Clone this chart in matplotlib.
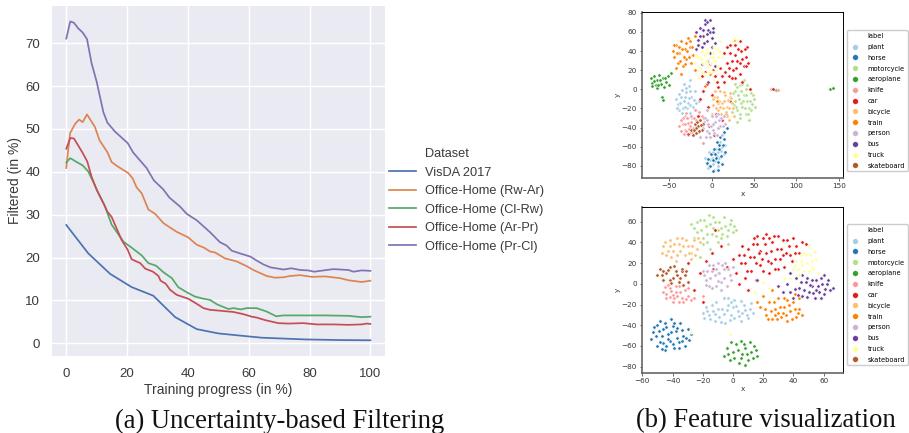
import matplotlib
matplotlib.use("Agg")
import matplotlib.pyplot as plt
from matplotlib.lines import Line2D

W, H = 909, 433

# training curves
visda_x = [0, 7.2, 14.4, 21.5, 28.6, 35.8, 42.9, 50, 57, 64.3, 71.4, 78.5, 90, 100]
visda_y = [27.6, 21, 16.2, 13.1, 11.1, 6.1, 3.3, 2.3, 1.8, 1.3, 1.1, 0.9, 0.75, 0.7]

rwar_x = [0, 0.5, 1.3, 2.9, 4.2, 5.4, 6.8, 9.4, 10.9, 13.5, 14.9, 16.6, 20.4, 21.8, 23.1, 24.8, 27, 29.2, 32, 36.3,
          40.1, 42.9, 45.3, 47.3, 48.9, 52.2, 56, 59.3, 61.5, 65.9, 68.6, 71.4, 73.6, 76.9, 80.7, 85.1, 90, 92.8, 97.1, 100]
rwar_y = [40.9, 44.4, 49.1, 51.2, 52.2, 51.6, 53.4, 50.5, 47.4, 44.6, 42.3, 41.4, 39.7, 38.5, 36.4, 35, 31.2, 30.2, 28, 26,
          24.7, 23, 22.3, 21.4, 21.2, 19.8, 19.1, 18, 17.1, 15.7, 15.3, 15.4, 15.7, 15.9, 15.5, 15.6, 15.2, 14.7, 14.3, 14.6]

clrw_x = [0, 1.3, 3.4, 5.4, 7.2, 8.9, 10.5, 12.7, 14.9, 18.8, 21.5, 24.8, 27, 29.5, 31.9, 34.7, 36.8, 39.6, 42.3, 45.1,
          47.3, 49.5, 53.3, 55, 57.4, 59.3, 62.6, 65.9, 69, 71.4, 76.9, 80, 85, 92.8, 97.1, 100]
clrw_y = [42.2, 43.2, 42.3, 41.5, 40.1, 37.6, 35.1, 32, 27.7, 23.7, 22.3, 20.5, 18.7, 18.1, 16.6, 15.2, 13.1, 11.9, 10.9, 10.4,
          10.1, 9.1, 8, 8.2, 7.9, 8.2, 8.2, 7.4, 6.3, 6.5, 6.5, 6.5, 6.5, 6.4, 6.1, 6.2]

arpr_x = [0, 1.3, 2.5, 5.4, 6.9, 8.3, 10, 12.2, 13.5, 14.9, 18.2, 20.2, 21.5, 24.3, 26, 28.5, 30.3, 31, 32.7, 34.1,
          36.3, 40.1, 42.9, 45.1, 47.3, 50.5, 55, 58.2, 61, 62.6, 65.4, 69.7, 73, 78, 82.3, 87.8, 92.8, 97.1, 98.8, 100]
arpr_y = [45.4, 47.9, 47.8, 44.4, 42.4, 38.9, 35.8, 32.7, 30.7, 29.5, 24.1, 21.8, 19.6, 18.7, 17.4, 16.7, 15.7, 14.6, 13.9, 12.5,
          11.3, 10.4, 9.2, 8.2, 7.8, 7.6, 7.3, 6.8, 6.2, 6, 5.4, 4.7, 4.6, 4.7, 4.4, 4.4, 4.3, 4.4, 4.6, 4.5]

prcl_x = [0, 1.3, 2.5, 3.9, 5.4, 6.8, 8.3, 10, 12.2, 13.5, 16, 20.2, 22, 26.4, 28.8, 31.9, 33.9, 37.4, 39.6, 42.9,
          47.3, 50.5, 52.7, 54.4, 57, 60.6, 62.6, 64.8, 67.2, 69, 71.4, 74, 76.9, 79.6, 81.5, 84.6, 87.8, 92.8, 94.4, 97.1, 100]
prcl_y = [71.1, 75.1, 74.8, 73.5, 72.5, 71, 65.4, 61, 53.9, 51.5, 49.4, 46.7, 44.5, 40.9, 38, 35.9, 34, 31.9, 30.2, 28.7,
          25.9, 23.6, 22.8, 21.6, 21, 20.2, 19.3, 18.4, 17.7, 17.5, 17.2, 17.5, 17.1, 17, 16.7, 17, 17.3, 17.1, 16.7, 17, 16.9]

dataset_names = ["VisDA 2017", "Office-Home (Rw-Ar)", "Office-Home (Cl-Rw)", "Office-Home (Ar-Pr)", "Office-Home (Pr-Cl)"]
dataset_colors = ["#4C72B0", "#DD8452", "#55A868", "#C44E52", "#8172B3"]

class_names = ["plant", "horse", "motorcycle", "aeroplane", "knife", "car", "bicycle", "train", "person", "bus", "truck", "skateboard"]
class_colors = ["#a6cee3", "#1f78b4", "#b2df8a", "#33a02c", "#fb9a99", "#e31a1c", "#fdbf6f", "#ff7f00", "#cab2d6", "#6a3d9a", "#ffff99", "#b15928"]

# t-SNE points, hand-read approximations of the clouds (top panel)
top_plant = [(-40,-15),(-36,-8),(-34,-20),(-30,-3),(-28,-14),(-26,-25),(-24,-8),(-22,-18),(-32,-28),(-38,-22),(-20,-2),(-18,-14),(-27,3),(-35,-1),(-29,-20),(-23,-30),
             (-5,-78),(0,-72),(5,-62),(10,-55),(14,-68),(8,-80),(-3,-66),(3,-84),(12,-48),(16,-58),(-8,-72),(6,-70),(-15,-12),(-25,10),
             (-42,-10),(-38,-5),(-37,-14),(-33,-12),(-31,-18),(-31,-8),(-27,-9),(-25,-16),(-25,-2),(-21,-11),(-19,-22),(-35,-25),(-30,1),(-33,6),(-28,-30),(-41,-20),
             (-2,-74),(2,-78),(4,-75),(-4,-82),(7,-66),(9,-72),(12,-60),(15,-46),(11,-64),(1,-66)]
top_horse = [(-6,-77),(-2,-80),(1,-74),(4,-68),(7,-76),(9,-62),(11,-70),(13,-58),(15,-52),(16,-65),(3,-62),(-1,-68),(6,-55),(12,-78),(10,-50),(18,-40),(8,-84),(2,-85),(14,-45),(5,-72),(-4,-73),(9,-58)]
top_motor = [(22,-8),(26,-16),(28,-2),(30,-22),(32,-10),(34,4),(36,-18),(38,-6),(40,-26),(42,-12),(44,-20),(46,-4),(48,-15),(34,-30),(28,6),(38,10),(24,-24),(44,-32),(50,-10),(40,0),(30,-34),(35,-14),
             (25,-4),(27,-12),(29,-18),(31,-6),(33,-26),(35,-2),(37,-12),(39,-20),(41,-6),(43,-26),(45,-12),(47,-22),(49,-6),(51,-18),(30,2),(36,6),(42,4),(26,-28)]
top_aero = [(-72,12),(-70,7),(-68,14),(-66,4),(-64,10),(-62,15),(-60,6),(-58,12),(-56,2),(-54,8),(-52,14),(-50,4),(-48,17),(-65,1),(-59,-8),(-58,-11),(140,0),(143,1),(76,-1),(-68,9),(-61,10),(-63,5),(-55,12),(-70,3)]
top_knife = [(-38,-38),(-34,-30),(-32,-42),(-28,-35),(-26,-46),(-24,-28),(-22,-40),(-18,-32),(-16,-45),(-36,-44),(-30,-25),(-20,-22),(-12,-28),(-28,-48),(-34,-36),(-25,-38),(70,0),(78,-1),(-10,-56),
             (-36,-32),(-32,-36),(-30,-44),(-29,-30),(-27,-41),(-24,-34),(-23,-45),(-21,-30),(-19,-38),(-33,-47),(-15,-24)]
top_car = [(18,28),(22,38),(25,20),(28,46),(30,30),(33,16),(35,40),(38,24),(40,34),(20,14),(42,44),(15,38),(26,52),(36,8),(10,22),(4,14),(-2,26),(-6,6),(0,-6),(8,2),
           (-10,-2),(14,8),(-12,14),(5,-26),(-4,-18),(-16,-28),(-3,-38),(12,-32),(22,-12),(45,0),(28,12),(43,28),(-5,-22),(3,-48),(72,0),
           (20,22),(24,30),(27,36),(29,22),(31,42),(33,28),(36,32),(39,42),(41,24),(22,46),(18,44),(34,50),(24,12),(12,14),(6,8),(2,20),(16,18),(-8,18),(-14,-10),(8,-14),(-9,-30),(17,-26)]
top_bicy = [(2,-16),(6,-8),(8,-22),(10,-2),(12,-14),(14,-28),(16,-6),(18,-18),(20,-32),(22,-4),(24,-14),(4,-2),(0,-26),(13,-20),(26,-28),(19,-11),(7,-14),
            (3,-8),(5,-20),(9,-12),(11,-26),(15,-12),(17,-24),(21,-20),(23,-9),(25,-20),(10,-18),(14,-3),(18,-28),(1,-10)]
top_train = [(-46,40),(-44,34),(-42,46),(-40,28),(-38,38),(-36,50),(-34,24),(-32,42),(-30,32),(-28,54),(-26,44),(-24,28),(-22,36),(-20,56),(-42,22),(-36,16),(-15,12),(-8,3),(-2,16),(6,-12),(-20,20),(-30,48),
             (-45,46),(-41,38),(-39,44),(-37,30),(-35,42),(-33,34),(-31,26),(-29,40),(-27,34),(-25,50),(-23,44)]
top_person = [(-8,-30),(-6,-44),(-4,-36),(-2,-50),(0,-28),(2,-42),(4,-34),(6,-48),(8,-26),(10,-38),(-10,-40),(-14,-50),(14,-28),(-6,-22),(12,-48),(-1,-38),(16,-36),
              (-5,-32),(-3,-46),(1,-36),(3,-46),(5,-28),(7,-40),(9,-32),(-9,-34),(-7,-50),(11,-30),(13,-38)]
top_bus = [(-18,60),(-16,52),(-14,64),(-12,44),(-10,56),(-8,68),(-6,50),(-4,62),(-2,72),(0,54),(2,64),(4,48),(-6,30),(-12,26),(-2,38),(4,24),(-18,42),(-4,8),(0,44),(-8,72),(-14,56),(-10,62),(-6,58),(-2,60),(-5,70),(1,60),(-16,46),(-9,48)]
top_truck = [(-16,34),(-14,22),(-12,40),(-10,28),(-8,16),(-6,42),(-4,24),(-2,34),(0,18),(2,38),(4,30),(6,42),(8,24),(10,50),(-20,28),(-15,12),(12,34),(26,54),(-9,36),(3,10),
             (-13,32),(-11,18),(-7,30),(-5,38),(-3,18),(-1,28),(1,34),(3,44),(5,20),(7,34),(9,40),(-18,36),(24,50),(30,52)]
top_skate = [(-24,-42),(-20,-36),(-18,-46),(-16,-38),(-14,-32),(-12,-42),(-10,-36),(-22,-48),(-28,-47),(-15,-44),(-19,-40),(-17,-34),(-13,-37),(-21,-43)]

# bottom panel
bot_plant = [(-20,-28),(-18,-22),(-15,-34),(-13,-26),(-11,-18),(-9,-32),(-7,-24),(-5,-38),(-3,-20),(-1,-30),(1,-16),(3,-26),(5,-36),(7,-20),(9,-30),(11,-24),(13,-28),(-6,-14),(-12,-36),(0,-22),(-16,-30),(6,-28),
             (-19,-33),(-17,-26),(-14,-20),(-12,-29),(-10,-24),(-8,-37),(-6,-29),(-4,-25),(-2,-35),(-1,-18),(1,-33),(2,-21),(4,-31),(5,-17),(8,-25),(10,-33),(12,-19),(-3,-14)]
bot_horse = [(-54,-53),(-52,-42),(-50,-60),(-48,-36),(-47,-50),(-45,-64),(-44,-42),(-42,-55),(-41,-34),(-39,-62),(-38,-46),(-36,-56),(-35,-38),(-33,-50),(-32,-60),(-30,-44),(-49,-46),(-43,-48),(-37,-52),(-46,-57),(-40,-41),(-28,-48),
             (-51,-50),(-50,-40),(-48,-56),(-46,-44),(-45,-38),(-44,-60),(-43,-53),(-41,-47),(-40,-58),(-39,-38),(-37,-43),(-36,-62),(-34,-45),(-34,-55),(-31,-52),(-47,-63),(-53,-47),(-29,-54)]
bot_motor = [(-28,58),(-24,50),(-22,62),(-20,44),(-18,56),(-16,66),(-14,48),(-12,60),(-10,40),(-8,54),(-6,64),(-4,46),(-2,58),(0,50),(-20,38),(-26,44),(-10,52),(-15,34),(-3,38),(-28,30),(-22,26),
             (-26,54),(-24,60),(-21,52),(-19,62),(-17,48),(-15,58),(-13,54),(-13,64),(-11,46),(-9,60),(-7,48),(-5,56),(-3,52),(-1,62),(1,56),(-17,40),(2,52),(-8,44)]
bot_aero = [(-6,-70),(-4,-62),(-2,-74),(0,-66),(2,-58),(4,-76),(6,-68),(8,-62),(10,-74),(12,-66),(14,-60),(16,-70),(5,-55),(-1,-56),(8,-78),(3,-64),(11,-56),(-3,-68),(1,-72),(5,-72),(7,-58),(9,-68),(13,-72),(15,-64)]
bot_knife = [(-46,-8),(-44,-14),(-42,-4),(-40,-18),(-38,-8),(-36,-2),(-34,-14),(-32,-6),(-30,-12),(-40,-11),(-36,-18),(-28,-16),(-43,-1),(-26,-14),(-20,-12),(-10,10),
             (-45,-3),(-44,-10),(-42,-13),(-41,-7),(-39,-14),(-38,-2),(-37,-12),(-35,-8),(-33,-18),(-33,-1),(-31,-15),(-30,-4)]
bot_car = [(4,28),(8,20),(10,34),(12,12),(14,26),(16,38),(18,18),(20,44),(22,30),(24,10),(26,40),(28,24),(30,46),(32,34),(34,16),(36,42),(38,28),(40,44),(42,36),(44,30),(46,40),(48,38),
           (22,48),(14,44),(6,36),(2,10),(4,0),(8,6),(-4,16),(-18,22),(-22,10),(-26,-6),(-30,20),(-34,12),(-14,30),(-8,36),(0,24),(15,4),(25,20),(18,32),(30,14),(10,-6),(-20,-18),(-13,14),(33,28),(-12,52),
           (11,26),(13,38),(15,20),(17,30),(19,24),(21,38),(23,22),(25,32),(27,46),(29,34),(31,24),(33,42),(35,30),(37,36),(39,22),(41,30),(20,12),(16,46),(24,44),(28,14),(5,20),(9,12),(7,28)]
bot_bicy = [(-46,36),(-44,28),(-42,42),(-40,32),(-38,22),(-36,38),(-34,44),(-32,28),(-30,36),(-28,24),(-26,42),(-24,34),(-22,40),(-42,36),(-35,32),(-47,30),
            (-45,40),(-43,32),(-41,26),(-39,38),(-37,44),(-37,28),(-33,36),(-31,42),(-29,30),(-27,36),(-25,28),(-23,44)]
bot_train = [(18,-22),(22,-30),(24,-18),(26,-34),(28,-24),(30,-14),(32,-32),(34,-22),(36,-36),(38,-26),(40,-18),(42,-32),(44,-24),(46,-30),(20,-12),(26,-6),(41,-10),(30,-28),(36,-16),(44,-14),(16,-18),
             (21,-24),(23,-34),(25,-26),(27,-18),(29,-34),(31,-22),(33,-28),(35,-30),(37,-20),(39,-34),(41,-24),(43,-28),(28,-30),(34,-14)]
bot_person = [(-20,12),(-18,4),(-16,18),(-14,-4),(-12,8),(-10,20),(-8,2),(-6,14),(-4,-2),(-2,8),(-14,12),(-8,-6),(-16,-2),(0,16),(-10,3),(-5,20),
              (-19,8),(-17,12),(-15,6),(-13,18),(-11,14),(-11,-2),(-9,10),(-7,18),(-6,6),(-3,14),(-1,4),(-18,-1)]
bot_bus = [(33,-8),(36,0),(38,-8),(40,-14),(42,6),(44,-4),(46,-12),(48,2),(50,-8),(52,4),(54,-14),(56,-2),(58,6),(60,-10),(62,0),(64,-6),(66,-4),(58,-14),(52,-2),(46,8),(60,8),(38,10),(16,4),(30,-2),
           (41,-5),(43,-11),(45,2),(47,-6),(49,-13),(51,-1),(53,-9),(55,4),(57,-8),(59,0),(61,-5),(63,4),(55,-6),(49,6)]
bot_truck = [(40,14),(42,22),(44,8),(46,18),(48,28),(50,12),(52,22),(54,32),(56,10),(50,36),(38,6),(34,6),(20,2),(14,-8),(45,28),(52,16),(24,-4),(-2,-48),(-28,-47),
             (41,18),(43,14),(45,22),(47,12),(49,20),(51,28),(53,14),(55,24),(47,30)]
bot_skate = [(-50,8),(-48,14),(-46,4),(-44,10),(-42,16),(-40,6),(-38,12),(-36,2),(-34,14),(-32,8),(-30,2),(-42,4),(-37,8),(-46,12),(-33,-1),(-47,8),(-43,13),(-41,1),(-39,17),(-35,6),(-31,12)]

top_classes = [top_plant, top_horse, top_motor, top_aero, top_knife, top_car, top_bicy, top_train, top_person, top_bus, top_truck, top_skate]
bot_classes = [bot_plant, bot_horse, bot_motor, bot_aero, bot_knife, bot_car, bot_bicy, bot_train, bot_person, bot_bus, bot_truck, bot_skate]


def px_axes(fig, x0, y0, x1, y1):
    # pixel box, y counted from the top of the image
    return fig.add_axes([x0 / W, 1 - y1 / H, (x1 - x0) / W, (y1 - y0) / H])


fig = plt.figure(figsize=(W / 100, H / 100), dpi=100)
fig.patch.set_facecolor("white")

# left panel, seaborn darkgrid look
ax = px_axes(fig, 52, 6, 385, 355.7)
ax.set_facecolor("#EAEAF2")
ax.grid(color="white", lw=1.0)
ax.set_axisbelow(True)
for s in ax.spines.values():
    s.set_visible(False)
curves = [(visda_x, visda_y), (rwar_x, rwar_y), (clrw_x, clrw_y), (arpr_x, arpr_y), (prcl_x, prcl_y)]
for (cx, cy), name, col in zip(curves, dataset_names, dataset_colors):
    ax.plot(cx, cy, color=col, lw=1.25, label=name)
ax.set_xlim(-4.7, 104.8)
ax.set_ylim(-2.9, 78.7)
ax.set_xticks([0, 20, 40, 60, 80, 100])
ax.set_yticks([0, 10, 20, 30, 40, 50, 60, 70])
ax.tick_params(axis="x", length=0, labelsize=9.5, labelcolor="#3a3a3a", pad=8.5)
ax.tick_params(axis="y", length=0, labelsize=9.5, labelcolor="#3a3a3a", pad=8.5)
for t in ax.get_xticklabels() + ax.get_yticklabels():
    t.set_family("Liberation Sans")
ax.set_xlabel("Training progress (in %)", fontsize=10, family="Liberation Sans", color="#3a3a3a", labelpad=2.5)
ax.set_ylabel("Filtered (in %)", fontsize=10, family="Liberation Sans", color="#3a3a3a", labelpad=2.5)

h = [Line2D([], [], color="none")] + [Line2D([], [], color=c, lw=1.25) for c in dataset_colors]
leg = fig.legend(h, ["Dataset"] + dataset_names, loc="upper left", bbox_to_anchor=(385 / W, 1 - 144.5 / H),
                 frameon=False, prop={"family": "Liberation Sans", "size": 9.2},
                 handlelength=2.1, handletextpad=0.7, labelspacing=0.51, borderaxespad=0, borderpad=0.3)
for t in leg.get_texts():
    t.set_color("#3a3a3a")


def tsne_panel(box, classes, xlim, ylim, xticks, yticks):
    a = px_axes(fig, *box)
    for pts, col in zip(classes, class_colors):
        a.scatter([p[0] for p in pts], [p[1] for p in pts], s=6, color=col, edgecolors="white", linewidths=0.45)
    a.set_xlim(*xlim)
    a.set_ylim(*ylim)
    a.set_xticks(xticks)
    a.set_yticks(yticks)
    a.tick_params(length=1.8, width=0.5, labelsize=5.2, pad=1.5, colors="#333333")
    a.set_xlabel("x", fontsize=5.2, labelpad=1.5, color="#333333")
    a.set_ylabel("y", fontsize=5.2, labelpad=1, color="#333333")
    for side in ["top", "right"]:
        a.spines[side].set_linewidth(0.7)
    for side in ["left", "bottom"]:
        a.spines[side].set_linewidth(1.2)
        a.spines[side].set_color("#666666")
    return a


tsne_panel((641.7, 12.3, 843.3, 178.3), top_classes, (-82.6, 155.4), (-93, 80.5),
           [-50, 0, 50, 100, 150], [-80, -60, -40, -20, 0, 20, 40, 60, 80])
tsne_panel((641.7, 206.7, 843.3, 373), bot_classes, (-60.4, 73), (-86.1, 74.4),
           [-60, -40, -20, 0, 20, 40, 60], [-80, -60, -40, -20, 0, 20, 40, 60])

# both t-SNE legends sit right of their panels
for top_px in [30.5, 224.5]:
    hs = [Line2D([], [], ls="", marker="o", color="none")]
    hs += [Line2D([], [], ls="", marker="o", ms=4, color=c, mec="white", mew=0.2) for c in class_colors]
    fig.legend(hs, ["label"] + class_names, loc="upper left", bbox_to_anchor=(846.5 / W, 1 - top_px / H),
               prop={"family": "DejaVu Sans", "size": 4.8}, labelspacing=0.72, handlelength=1.6,
               handletextpad=1.15, borderaxespad=0, borderpad=0.4, fancybox=True, edgecolor="#cccccc", framealpha=1)

fig.text(279.5 / W, 1 - 421 / H, "(a) Uncertainty-based Filtering", family="Liberation Serif", fontsize=19.2,
         ha="center", va="center", color="#111111")
fig.text(765.5 / W, 1 - 421 / H, "(b) Feature visualization", family="Liberation Serif", fontsize=19.2,
         ha="center", va="center", color="#111111")

fig.savefig("out.png", dpi=100)
